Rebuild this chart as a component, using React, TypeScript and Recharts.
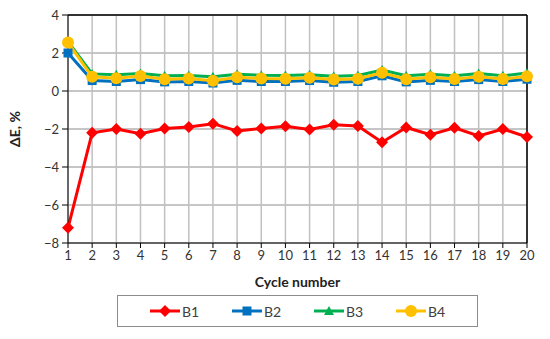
import React from 'react'
import { LineChart, Line, XAxis, YAxis, CartesianGrid, Legend, ReferenceLine } from 'recharts'

const CYCLES = [1, 2, 3, 4, 5, 6, 7, 8, 9, 10, 11, 12, 13, 14, 15, 16, 17, 18, 19, 20]
const B1 = [-7.2, -2.2, -2.0, -2.25, -1.97, -1.9, -1.72, -2.1, -1.97, -1.86, -2.02, -1.78, -1.84, -2.7, -1.92, -2.3, -1.94, -2.37, -2.0, -2.42]
const B2 = [2.0, 0.55, 0.5, 0.6, 0.48, 0.5, 0.42, 0.56, 0.5, 0.5, 0.55, 0.46, 0.5, 0.8, 0.48, 0.56, 0.5, 0.6, 0.5, 0.62]
const B3 = [2.6, 0.9, 0.85, 0.92, 0.8, 0.82, 0.75, 0.88, 0.83, 0.82, 0.86, 0.78, 0.82, 1.1, 0.8, 0.88, 0.8, 0.92, 0.8, 0.95]
const B4 = [2.55, 0.75, 0.67, 0.79, 0.62, 0.66, 0.54, 0.72, 0.66, 0.65, 0.7, 0.6, 0.65, 0.96, 0.62, 0.72, 0.63, 0.75, 0.63, 0.77]
const Y_TICKS = [-8, -6, -4, -2, 0, 2, 4]

const SERIES = [
  { key: 'B1', values: B1, color: '#ff0000', shape: 'diamond' },
  { key: 'B2', values: B2, color: '#0070c0', shape: 'square' },
  { key: 'B3', values: B3, color: '#00b050', shape: 'triangle' },
  { key: 'B4', values: B4, color: '#ffc000', shape: 'circle' },
]

const data = CYCLES.map((c, i) => ({ cycle: c, B1: B1[i], B2: B2[i], B3: B3[i], B4: B4[i] }))

const FONT = 'Lato, "Noto Sans", sans-serif'

function Marker({ shape, cx, cy, color }: { shape: string; cx: number; cy: number; color: string }) {
  if (shape === 'diamond') {
    const s = 6
    return <polygon points={`${cx},${cy - s} ${cx + s},${cy} ${cx},${cy + s} ${cx - s},${cy}`} fill={color} />
  }
  if (shape === 'square') {
    return <rect x={cx - 4.5} y={cy - 4.5} width={9} height={9} fill={color} />
  }
  if (shape === 'triangle') {
    return <polygon points={`${cx},${cy - 5} ${cx + 5},${cy + 4} ${cx - 5},${cy + 4}`} fill={color} />
  }
  return <circle cx={cx} cy={cy} r={6} fill={color} />
}

const makeDot = (shape: string, color: string) => (props: any) => {
  const { cx, cy, index } = props
  if (cx == null || cy == null) return <g key={index} />
  return <Marker key={index} shape={shape} cx={cx} cy={cy} color={color} />
}

function LegendBox() {
  return (
    <div
      style={{
        width: 361,
        height: 32,
        boxSizing: 'border-box',
        border: '1px solid #8c8c8c',
        display: 'flex',
        alignItems: 'center',
        paddingLeft: 31,
        fontFamily: FONT,
        fontSize: 14,
        color: '#404040',
      }}
    >
      {SERIES.map((s) => (
        <div key={s.key} style={{ display: 'flex', alignItems: 'center', width: 83 }}>
          <svg width={32} height={12}>
            <line x1={1} y1={6} x2={31} y2={6} stroke={s.color} strokeWidth={3} />
            <Marker shape={s.shape} cx={16} cy={6} color={s.color} />
          </svg>
          <span style={{ marginLeft: 1 }}>{s.key}</span>
        </div>
      ))}
    </div>
  )
}

// proper minus sign like the original
const fmtY = (v: number) => (v < 0 ? `\u2212${Math.abs(v)}` : `${v}`)

export default function App() {
  return (
    <div style={{ position: 'absolute', left: 0, top: 0, width: 550, height: 339, background: '#fff' }}>
      <LineChart width={550} height={339} data={data} margin={{ top: 15, right: 23, bottom: 66, left: 8 }}>
        <CartesianGrid vertical={false} stroke="#8c8c8c" strokeWidth={1} />
        <CartesianGrid horizontal={false} stroke="#c0c0c0" strokeWidth={1.5} />
        <XAxis
          dataKey="cycle"
          height={30}
          interval={0}
          stroke="#000"
          tickSize={5}
          tick={{ fontSize: 13, fill: '#333', fontFamily: FONT }}
          tickMargin={3}
          label={{ value: 'Cycle number', position: 'bottom', offset: 4, style: { fontSize: 14, fontWeight: 700, fill: '#222', fontFamily: FONT } }}
        />
        <YAxis
          domain={[-8, 4]}
          ticks={Y_TICKS}
          tickFormatter={fmtY}
          width={60}
          stroke="#000"
          tickSize={6}
          tickMargin={3}
          tick={{ fontSize: 13, fill: '#333', fontFamily: FONT }}
          label={{ value: 'ΔE, %', angle: -90, position: 'insideLeft', dx: 2, style: { textAnchor: 'middle', fontSize: 14, fontWeight: 700, fill: '#222', fontFamily: FONT } }}
        />
        <ReferenceLine y={4} stroke="#000" strokeWidth={1.5} />
        <ReferenceLine x={20} stroke="#000" strokeWidth={1.5} />
        <Legend
          layout="horizontal"
          verticalAlign="middle"
          align="center"
          content={() => <LegendBox />}
          wrapperStyle={{ position: 'absolute', left: 117, top: 295, width: 361, height: 32 }}
        />
        {SERIES.map((s) => (
          <Line
            key={s.key}
            dataKey={s.key}
            stroke={s.color}
            strokeWidth={3}
            dot={makeDot(s.shape, s.color)}
            activeDot={false}
            isAnimationActive={false}
          />
        ))}
      </LineChart>
    </div>
  )
}
